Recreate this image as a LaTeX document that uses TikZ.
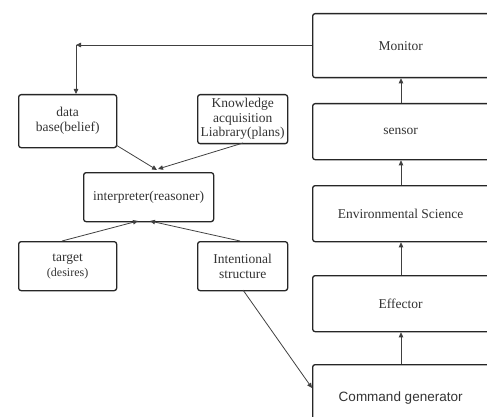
\documentclass[tikz,border=0pt]{standalone}
\usepackage{fontspec}
\setmainfont{Liberation Serif}
\newfontfamily\arialfont{Liberation Sans}
\usetikzlibrary{arrows.meta}
\begin{document}
\begin{tikzpicture}[x=1pt,y=-1pt,
  box/.style={draw=black!85,line width=1.3pt,rounded corners=2.5pt,align=center,
    inner sep=0pt,text=black!80,font=\fontsize{13.5}{15}\selectfont},
  link/.style={draw=black!75,line width=0.8pt,-{Triangle[length=5pt,width=4.5pt]}}]
\useasboundingbox (0,0) rectangle (487,417);
\begin{scope}
\clip (0,0) rectangle (487,417);
% right column, running past the right edge
\node[box,minimum width=190pt,minimum height=64pt,anchor=north west] (mon) at (312,13) {\hspace*{-14pt}Monitor};
\node[box,minimum width=190pt,minimum height=56pt,anchor=north west] (sen) at (312,103) {\hspace*{-14pt}sensor};
\node[box,minimum width=190pt,minimum height=56pt,anchor=north west] (env) at (312,185) {\hspace*{-14pt}Environmental Science};
\node[box,minimum width=190pt,minimum height=56pt,anchor=north west] (eff) at (312,275) {\hspace*{-14pt}Effector};
\node[box,minimum width=190pt,minimum height=70pt,anchor=north west,font=\arialfont\fontsize{13.5}{15}\selectfont] (cmd) at (312,364) {\raisebox{6pt}{\hspace*{-14pt}Command generator}};
\end{scope}
% left part
\node[box,minimum width=98pt,minimum height=53pt,anchor=north west] (db) at (18,94) {data\\base(belief)};
\node[box,minimum width=90pt,minimum height=49pt,anchor=north west,font=\fontsize{13.5}{14.5}\selectfont] (ka) at (197,94) {Knowledge\\acquisition\\Liabrary(plans)};
\node[box,minimum width=130pt,minimum height=49pt,anchor=north west] (int) at (83,172) {interpreter(reasoner)};
\node[box,minimum width=98pt,minimum height=49pt,anchor=north west] (tg) at (18,241) {target\\{\fontsize{12}{14}\selectfont(desires)}};
\node[box,minimum width=90pt,minimum height=49pt,anchor=north west] (is) at (197,241) {Intentional\\structure};
% vertical chain
\draw[link] (cmd.north -| 401,0) -- (eff.south -| 401,0);
\draw[link] (eff.north -| 401,0) -- (env.south -| 401,0);
\draw[link] (env.north -| 401,0) -- (sen.south -| 401,0);
\draw[link] (sen.north -| 401,0) -- (mon.south -| 401,0);
% feedback from monitor to the data base
\coordinate (bend) at (76,45);
\draw[link] (mon.west |- bend) -- (bend);
\draw[link] (bend) -- (bend |- db.north);
% links into the interpreter
\draw[link] (116,145) -- (157,170);
\draw[link] (243,143) -- (158,169);
\draw[link] (62,241) -- (138,221);
\draw[link] (240,241) -- (150,221);
\draw[link] (243,290) -- (312,388);
\end{tikzpicture}
\end{document}
